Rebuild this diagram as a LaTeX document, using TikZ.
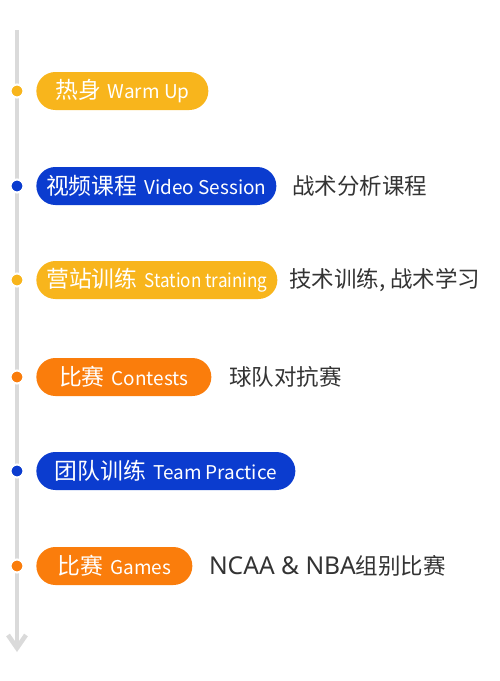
\documentclass[tikz,border=0pt]{standalone}
\usepackage{fontspec}
\setmainfont{Noto Sans CJK SC}
\newfontfamily\latinfont{Noto Sans}
\usepackage{xcolor}
\definecolor{xyellow}{HTML}{F8B51C}
\definecolor{xblue}{HTML}{0B3CCF}
\definecolor{xorange}{HTML}{FA7D0C}
\definecolor{xgray}{HTML}{DADADA}
\definecolor{xtext}{HTML}{333333}
\usetikzlibrary{positioning}
\newcommand{\zh}[1]{{\fontsize{13pt}{14pt}\selectfont #1}\hspace{4pt}}
\newcommand{\en}[1]{{\fontsize{10.8pt}{12pt}\selectfont #1}}
\tikzset{
  %% Styles %%
  stage/.style 2 args = {fill=#1, text=white, anchor=west, inner xsep=0pt, inner ysep=0pt,
    minimum height=0.76cm, minimum width={#2*0.02cm}, rounded corners=0.38cm},
  note/.style = {text=xtext, font=\fontsize{12.8pt}{14pt}\selectfont, inner sep=0pt},
  milestone/.style = {circle, fill=#1, draw=white, line width=1.2pt, inner sep=0pt, minimum size=0.26cm},
  timeline/.style = {draw=xgray, line width=2.6pt},
}

\begin{document}
\begin{tikzpicture}[x=0.02cm, y=-0.02cm]
  \useasboundingbox (0,0) rectangle (500,681);

  % Timeline
  \coordinate (top) at (17,30);
  \coordinate (bottom) at (17,648);
  \coordinate (tipl) at (8,635);
  \coordinate (tipr) at (26,635);
  \draw[timeline] (top) -- (bottom);
  \draw[timeline, line join=miter] (tipl) -- (bottom) -- (tipr);

  % Stages
  \node[stage={xyellow}{172}] (warmup) at (36,91) {\zh{热身}\en{Warm Up}};
  \node[stage={xblue}{240}] (video) at (36,186) {\zh{视频课程}\en{Video Session}};
  \node[stage={xyellow}{241}] (station) at (36,280) {\zh{营站训练}\en{\scalebox{0.9}[1]{Station training}}};
  \node[stage={xorange}{175}] (contests) at (36,377) {\zh{比赛}\en{Contests}};
  \node[stage={xblue}{259}] (team) at (36,471) {\zh{团队训练}\en{Team Practice}};
  \node[stage={xorange}{156}] (games) at (36,566) {\zh{比赛}\en{Games}};

  % Notes
  \node[note, right=0.3cm of video] (videonote) {战术分析课程};
  \node[note, right=0.22cm of station] (stationnote) {技术训练, 战术学习};
  \node[note, right=0.34cm of contests] (contestsnote) {球队对抗赛};
  \node[note, right=0.32cm of games] (gamesnote) {{\latinfont\fontsize{14pt}{16pt}\selectfont NCAA \& NBA}组别比赛};

  % Dots
  \foreach \s/\c in {warmup/xyellow, video/xblue, station/xyellow, contests/xorange, team/xblue, games/xorange}
    \node[milestone=\c] (\s dot) at (top |- \s.west) {};
\end{tikzpicture}
\end{document}
